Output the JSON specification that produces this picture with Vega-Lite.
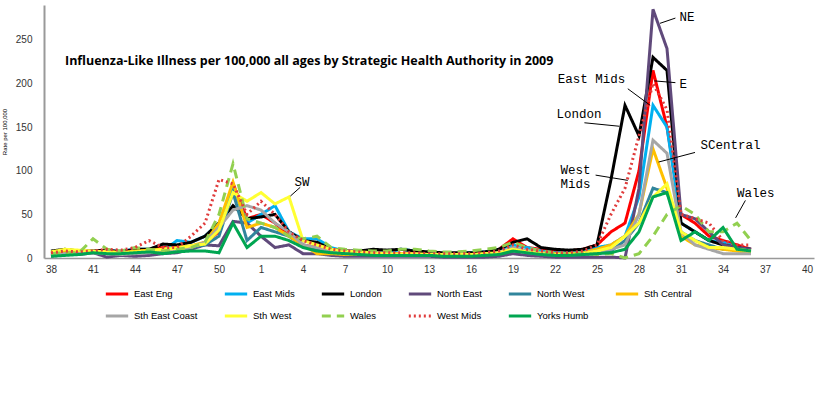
{
"$schema":"https://vega.github.io/schema/vega-lite/v6.json",
"width":770,"height":253,
"autosize":{"type":"none"},
"padding":{"left":44,"top":5,"right":26,"bottom":162},
"background":"white",
"config":{"view":{"stroke":null}},
"datasets":{
"d":[
{"i":0,"EE":5,"EM":4,"LON":8,"NE":2,"NW":3,"SC":6,"SEC":3,"SW":7,"WAL":5,"WM":6,"YH":2},
{"i":1,"EE":8,"EM":6,"LON":10,"NE":4,"NW":5,"SC":8,"SEC":5,"SW":10,"WAL":6,"WM":8,"YH":3},
{"i":2,"EE":7,"EM":6,"LON":8,"NE":4,"NW":6,"SC":8,"SEC":5,"SW":9,"WAL":6,"WM":7,"YH":4},
{"i":3,"EE":8,"EM":7,"LON":8,"NE":6,"NW":8,"SC":7,"SEC":6,"SW":8,"WAL":22,"WM":8,"YH":6},
{"i":4,"EE":9,"EM":8,"LON":9,"NE":1,"NW":6,"SC":8,"SEC":5,"SW":7,"WAL":10,"WM":10,"YH":5},
{"i":5,"EE":6,"EM":8,"LON":7,"NE":3,"NW":5,"SC":6,"SEC":4,"SW":6,"WAL":8,"WM":9,"YH":5},
{"i":6,"EE":8,"EM":10,"LON":10,"NE":2,"NW":6,"SC":8,"SEC":5,"SW":7,"WAL":12,"WM":12,"YH":6},
{"i":7,"EE":10,"EM":10,"LON":10,"NE":3,"NW":8,"SC":9,"SEC":6,"SW":8,"WAL":10,"WM":20,"YH":7},
{"i":8,"EE":12,"EM":8,"LON":16,"NE":5,"NW":5,"SC":10,"SEC":8,"SW":10,"WAL":8,"WM":12,"YH":5},
{"i":9,"EE":13,"EM":20,"LON":15,"NE":6,"NW":8,"SC":12,"SEC":10,"SW":11,"WAL":10,"WM":12,"YH":7},
{"i":10,"EE":12,"EM":18,"LON":18,"NE":10,"NW":12,"SC":14,"SEC":12,"SW":14,"WAL":12,"WM":25,"YH":8},
{"i":11,"EE":18,"EM":25,"LON":25,"NE":15,"NW":15,"SC":18,"SEC":18,"SW":16,"WAL":18,"WM":40,"YH":8},
{"i":12,"EE":30,"EM":40,"LON":40,"NE":14,"NW":25,"SC":40,"SEC":35,"SW":32,"WAL":50,"WM":90,"YH":6},
{"i":13,"EE":85,"EM":80,"LON":60,"NE":42,"NW":75,"SC":87,"SEC":55,"SW":75,"WAL":108,"WM":85,"YH":40},
{"i":14,"EE":45,"EM":40,"LON":45,"NE":40,"NW":20,"SC":35,"SEC":60,"SW":65,"WAL":45,"WM":50,"YH":12},
{"i":15,"EE":50,"EM":50,"LON":47,"NE":25,"NW":35,"SC":40,"SEC":55,"SW":75,"WAL":40,"WM":65,"YH":25},
{"i":16,"EE":40,"EM":60,"LON":50,"NE":12,"NW":30,"SC":35,"SEC":40,"SW":62,"WAL":35,"WM":50,"YH":25},
{"i":17,"EE":25,"EM":30,"LON":30,"NE":15,"NW":25,"SC":25,"SEC":30,"SW":70,"WAL":25,"WM":30,"YH":20},
{"i":18,"EE":15,"EM":22,"LON":20,"NE":5,"NW":15,"SC":15,"SEC":15,"SW":20,"WAL":22,"WM":20,"YH":12},
{"i":19,"EE":12,"EM":22,"LON":18,"NE":5,"NW":10,"SC":5,"SEC":12,"SW":15,"WAL":25,"WM":15,"YH":8},
{"i":20,"EE":10,"EM":12,"LON":10,"NE":3,"NW":8,"SC":5,"SEC":8,"SW":10,"WAL":12,"WM":10,"YH":6},
{"i":21,"EE":8,"EM":8,"LON":8,"NE":2,"NW":5,"SC":4,"SEC":6,"SW":8,"WAL":10,"WM":8,"YH":5},
{"i":22,"EE":7,"EM":7,"LON":8,"NE":2,"NW":4,"SC":4,"SEC":5,"SW":7,"WAL":9,"WM":7,"YH":4},
{"i":23,"EE":6,"EM":6,"LON":10,"NE":2,"NW":4,"SC":4,"SEC":4,"SW":6,"WAL":8,"WM":6,"YH":3},
{"i":24,"EE":6,"EM":6,"LON":9,"NE":2,"NW":4,"SC":4,"SEC":4,"SW":5,"WAL":8,"WM":6,"YH":3},
{"i":25,"EE":5,"EM":10,"LON":10,"NE":2,"NW":3,"SC":4,"SEC":4,"SW":5,"WAL":10,"WM":6,"YH":3},
{"i":26,"EE":5,"EM":8,"LON":8,"NE":2,"NW":3,"SC":4,"SEC":4,"SW":5,"WAL":10,"WM":6,"YH":3},
{"i":27,"EE":5,"EM":6,"LON":7,"NE":2,"NW":3,"SC":3,"SEC":3,"SW":4,"WAL":8,"WM":5,"YH":3},
{"i":28,"EE":4,"EM":5,"LON":6,"NE":1,"NW":3,"SC":3,"SEC":3,"SW":4,"WAL":7,"WM":5,"YH":2},
{"i":29,"EE":4,"EM":5,"LON":6,"NE":1,"NW":3,"SC":3,"SEC":3,"SW":4,"WAL":7,"WM":5,"YH":2},
{"i":30,"EE":5,"EM":6,"LON":6,"NE":1,"NW":3,"SC":3,"SEC":3,"SW":4,"WAL":8,"WM":5,"YH":2},
{"i":31,"EE":6,"EM":7,"LON":7,"NE":1,"NW":4,"SC":4,"SEC":4,"SW":5,"WAL":10,"WM":6,"YH":3},
{"i":32,"EE":10,"EM":10,"LON":10,"NE":2,"NW":5,"SC":5,"SEC":6,"SW":6,"WAL":12,"WM":8,"YH":4},
{"i":33,"EE":22,"EM":15,"LON":18,"NE":5,"NW":10,"SC":10,"SEC":12,"SW":10,"WAL":18,"WM":15,"YH":8},
{"i":34,"EE":12,"EM":12,"LON":22,"NE":3,"NW":6,"SC":8,"SEC":8,"SW":7,"WAL":12,"WM":10,"YH":6},
{"i":35,"EE":10,"EM":8,"LON":12,"NE":2,"NW":4,"SC":6,"SEC":6,"SW":5,"WAL":8,"WM":8,"YH":4},
{"i":36,"EE":8,"EM":6,"LON":10,"NE":1,"NW":3,"SC":5,"SEC":4,"SW":4,"WAL":6,"WM":6,"YH":3},
{"i":37,"EE":8,"EM":6,"LON":9,"NE":1,"NW":3,"SC":5,"SEC":4,"SW":4,"WAL":5,"WM":6,"YH":3},
{"i":38,"EE":10,"EM":8,"LON":10,"NE":1,"NW":4,"SC":6,"SEC":5,"SW":5,"WAL":5,"WM":8,"YH":4},
{"i":39,"EE":15,"EM":12,"LON":15,"NE":1,"NW":5,"SC":10,"SEC":8,"SW":8,"WAL":4,"WM":15,"YH":5},
{"i":40,"EE":30,"EM":15,"LON":90,"NE":1,"NW":8,"SC":15,"SEC":10,"SW":12,"WAL":5,"WM":50,"YH":6},
{"i":41,"EE":40,"EM":25,"LON":175,"NE":0,"NW":20,"SC":25,"SEC":15,"SW":25,"WAL":0,"WM":80,"YH":10},
{"i":42,"EE":100,"EM":70,"LON":140,"NE":80,"NW":40,"SC":50,"SEC":50,"SW":40,"WAL":5,"WM":140,"YH":30},
{"i":43,"EE":215,"EM":175,"LON":230,"NE":285,"NW":80,"SC":125,"SEC":135,"SW":70,"WAL":25,"WM":200,"YH":70},
{"i":44,"EE":150,"EM":150,"LON":215,"NE":240,"NW":75,"SC":80,"SEC":120,"SW":85,"WAL":50,"WM":170,"YH":75},
{"i":45,"EE":50,"EM":40,"LON":40,"NE":50,"NW":30,"SC":25,"SEC":30,"SW":30,"WAL":60,"WM":50,"YH":20},
{"i":46,"EE":40,"EM":30,"LON":30,"NE":45,"NW":20,"SC":15,"SEC":15,"SW":20,"WAL":50,"WM":45,"YH":30},
{"i":47,"EE":25,"EM":20,"LON":20,"NE":30,"NW":15,"SC":12,"SEC":10,"SW":12,"WAL":30,"WM":40,"YH":20},
{"i":48,"EE":20,"EM":18,"LON":15,"NE":15,"NW":10,"SC":10,"SEC":5,"SW":12,"WAL":30,"WM":20,"YH":35},
{"i":49,"EE":15,"EM":12,"LON":12,"NE":12,"NW":10,"SC":8,"SEC":5,"SW":10,"WAL":40,"WM":15,"YH":10},
{"i":50,"EE":10,"EM":10,"LON":10,"NE":10,"NW":8,"SC":6,"SEC":5,"SW":8,"WAL":20,"WM":15,"YH":8}
],
"ann":[
{"x":44.9,"y":276,"t":"NE"},
{"x":44.9,"y":200,"t":"E"},
{"x":36.2,"y":205,"t":"East Mids"},
{"x":36.1,"y":165,"t":"London"},
{"x":36.4,"y":101,"t":"West"},
{"x":36.4,"y":85,"t":"Mids"},
{"x":46.4,"y":129,"t":"SCentral"},
{"x":49,"y":74,"t":"Wales"},
{"x":17.4,"y":87,"t":"SW"}
],
"lines":[
{"x":43.5,"y":269,"x2":44.6,"y2":275},
{"x":43.1,"y":203,"x2":44.6,"y2":201},
{"x":41.2,"y":194,"x2":42.8,"y2":175},
{"x":38.1,"y":155,"x2":40.6,"y2":151},
{"x":38.9,"y":95,"x2":41.2,"y2":89},
{"x":46,"y":121,"x2":43.4,"y2":110},
{"x":49.6,"y":66,"x2":48.9,"y2":46},
{"x":17.8,"y":81,"x2":17.1,"y2":71}
]
},
"layer":[
{
"data":{"name":"d"},
"transform":[{"fold":["EE","EM","LON","NE","NW","SC","SEC","SW","WAL","WM","YH"],"as":["s","v"]}],
"mark":{"type":"line","strokeJoin":"miter"},
"encoding":{
"x":{"field":"i","type":"quantitative","scale":{"domain":[-0.5,54.5],"nice":false,"zero":false},
"axis":{"values":[0,3,6,9,12,15,18,21,24,27,30,33,36,39,42,45,48,51,54],"labelExpr":"datum.value<15 ? datum.value+38 : datum.value-14","title":null,"grid":false,"ticks":false,"domainColor":"#999999","domainWidth":1.5,"labelFont":"Liberation Sans","labelFontSize":10,"labelColor":"#333333","labelPadding":6}},
"y":{"field":"v","type":"quantitative","scale":{"domain":[0,290],"nice":false},
"axis":{"values":[0,50,100,150,200,250],"title":"Rate per 100,000","titleFontSize":6,"titleFontWeight":"normal","titlePadding":8,"grid":false,"ticks":false,"domainColor":"#999999","domainWidth":2,"labelFont":"Liberation Sans","labelFontSize":10,"labelColor":"#333333","labelPadding":12}},
"color":{"field":"s","type":"nominal","scale":{"domain":["EE","EM","LON","NE","NW","SC","SEC","SW","WAL","WM","YH"],"range":["#FF0000","#00B0F0","#000000","#604A7B","#31859C","#FFC000","#A6A6A6","#FFFF33","#92D050","#E03C3C","#00A651"]},
"legend":{"orient":"none","legendX":60,"legendY":276,"direction":"horizontal","columns":6,"symbolType":"stroke","symbolSize":500,"symbolStrokeWidth":9,"labelFont":"Liberation Sans","labelFontSize":9.5,"columnPadding":20,"rowPadding":3,"title":null,"labelLimit":120,
"labelExpr":"datum.label=='EE'?'East Eng':datum.label=='EM'?'East Mids':datum.label=='LON'?'London':datum.label=='NE'?'North East':datum.label=='NW'?'North West':datum.label=='SC'?'Sth Central':datum.label=='SEC'?'Sth East Coast':datum.label=='SW'?'Sth West':datum.label=='WAL'?'Wales':datum.label=='WM'?'West Mids':'Yorks Humb'"}},
"strokeDash":{"field":"s","type":"nominal","scale":{"domain":["EE","EM","LON","NE","NW","SC","SEC","SW","WAL","WM","YH"],"range":[[1,0],[1,0],[1,0],[1,0],[1,0],[1,0],[1,0],[1,0],[9,6],[2,3],[1,0]]}},
"strokeWidth":{"field":"s","type":"nominal","scale":{"domain":["EE","EM","LON","NE","NW","SC","SEC","SW","WAL","WM","YH"],"range":[3,3,3,3,3,3,3,3,3,1.5,3]},"legend":null}
}
},
{
"data":{"name":"lines"},
"mark":{"type":"rule","color":"#000000","strokeWidth":1},
"encoding":{"x":{"field":"x","type":"quantitative"},"y":{"field":"y","type":"quantitative"},"x2":{"field":"x2"},"y2":{"field":"y2"}}
},
{
"data":{"name":"ann"},
"mark":{"type":"text","font":"Liberation Mono","fontSize":12.5,"align":"left","baseline":"middle","color":"#000000"},
"encoding":{"x":{"field":"x","type":"quantitative"},"y":{"field":"y","type":"quantitative"},"text":{"field":"t"}}
},
{
"data":{"values":[{"x":1,"y":226,"t":"Influenza-Like Illness per 100,000 all ages by Strategic Health Authority in 2009"}]},
"mark":{"type":"text","font":"Open Sans","fontSize":12.5,"fontWeight":"bold","align":"left","baseline":"middle","color":"#000000"},
"encoding":{"x":{"field":"x","type":"quantitative"},"y":{"field":"y","type":"quantitative"},"text":{"field":"t"}}
}
]
}
